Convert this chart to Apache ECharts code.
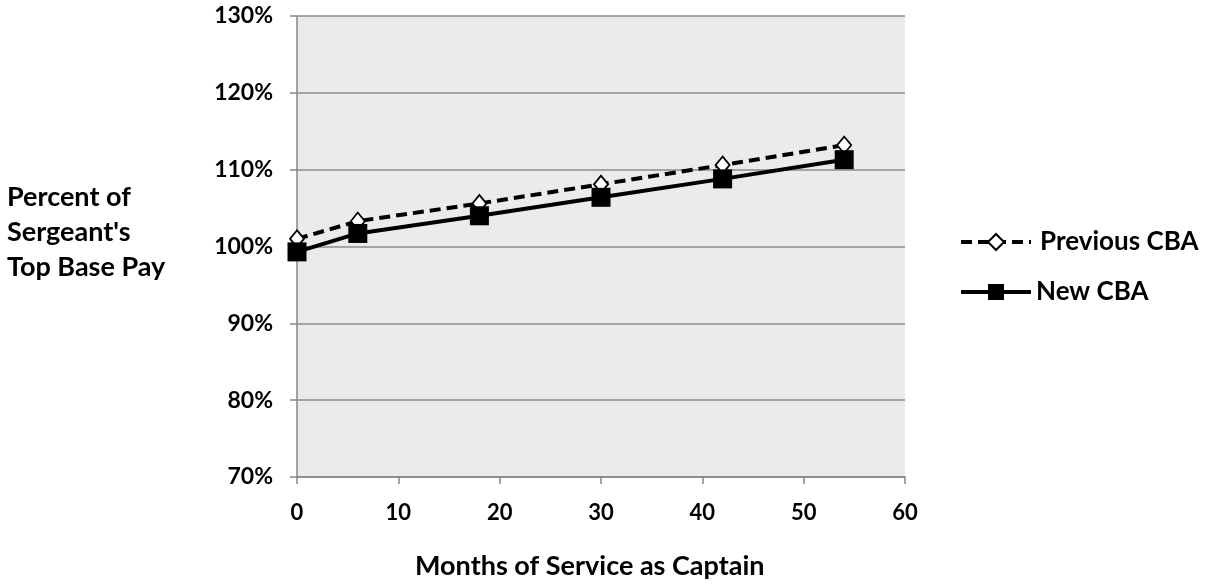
<!DOCTYPE html>
<html>
<head>
<meta charset="utf-8">
<script src="https://cdn.jsdelivr.net/npm/echarts@6/dist/echarts.min.js"></script>
<style>html,body{margin:0;padding:0;background:#fff}#c{width:1206px;height:584px}</style>
</head>
<body>
<div id="c"></div>
<script>
const months = [0, 6, 18, 30, 42, 54];
const previousCBA = [101.0, 103.3, 105.6, 108.1, 110.6, 113.2];
const newCBA = [99.3, 101.7, 104.0, 106.4, 108.8, 111.3];
const seriesNames = ['Previous CBA', 'New CBA'];
const yTitleLines = ['Percent of', "Sergeant's", 'Top Base Pay'];
const xTitle = 'Months of Service as Captain';

const FONT = 'Lato';
const chart = echarts.init(document.getElementById('c'));
chart.setOption({
  animation: false,
  backgroundColor: '#ffffff',
  textStyle: { fontFamily: FONT, fontWeight: 'bold', color: '#000' },
  grid: { left: 297, right: 301, top: 16, bottom: 107, show: true, backgroundColor: '#ebebeb', borderWidth: 0 },
  xAxis: {
    type: 'value', min: 0, max: 60, interval: 10,
    axisLine: { show: true, lineStyle: { color: '#868686', width: 1.5 } },
    axisTick: { show: true, length: 7, lineStyle: { color: '#868686', width: 1.5 } },
    axisLabel: { fontFamily: FONT, fontWeight: 'bold', fontSize: 22, color: '#000', margin: 25 },
    splitLine: { show: false }
  },
  yAxis: {
    type: 'value', min: 70, max: 130, interval: 10,
    axisLine: { show: true, lineStyle: { color: '#868686', width: 1.5 } },
    axisTick: { show: true, length: 7, lineStyle: { color: '#868686', width: 1.5 } },
    axisLabel: { formatter: '{value}%', fontFamily: FONT, fontWeight: 'bold', fontSize: 23, color: '#000', margin: 24 },
    splitLine: { show: true, lineStyle: { color: '#8c8c8c', width: 1.5 } }
  },
  legend: {
    orient: 'vertical', left: 954, top: 224,
    itemWidth: 70, itemHeight: 20, itemGap: 24,
    lineStyle: { width: 4 },
    textStyle: { fontFamily: FONT, fontWeight: 'bold', fontSize: 26, color: '#000' },
    data: [
      { name: seriesNames[0], textStyle: { padding: [0, 0, 0, 4] } },
      { name: seriesNames[1] }
    ]
  },
  graphic: [
    {
      type: 'text', left: 7, top: 180,
      style: { text: yTitleLines.join('\n'), font: 'bold 27px ' + FONT, fill: '#000', lineHeight: 35 }
    },
    {
      type: 'text', left: 415, top: 553,
      style: { text: xTitle, font: 'bold 27px ' + FONT, fill: '#000' }
    }
  ],
  series: [
    {
      name: seriesNames[0], type: 'line',
      data: months.map((m, i) => [m, previousCBA[i]]),
      lineStyle: { color: '#000', width: 4, type: [11, 6] },
      symbol: 'diamond', symbolSize: [14, 17],
      itemStyle: { color: '#fff', borderColor: '#000', borderWidth: 1.8 },
      z: 2
    },
    {
      name: seriesNames[1], type: 'line',
      data: months.map((m, i) => [m, newCBA[i]]),
      lineStyle: { color: '#000', width: 4 },
      symbol: 'rect', symbolSize: 19,
      itemStyle: { color: '#000', borderColor: '#000', borderWidth: 0 },
      z: 3
    }
  ]
});
</script>
</body>
</html>
